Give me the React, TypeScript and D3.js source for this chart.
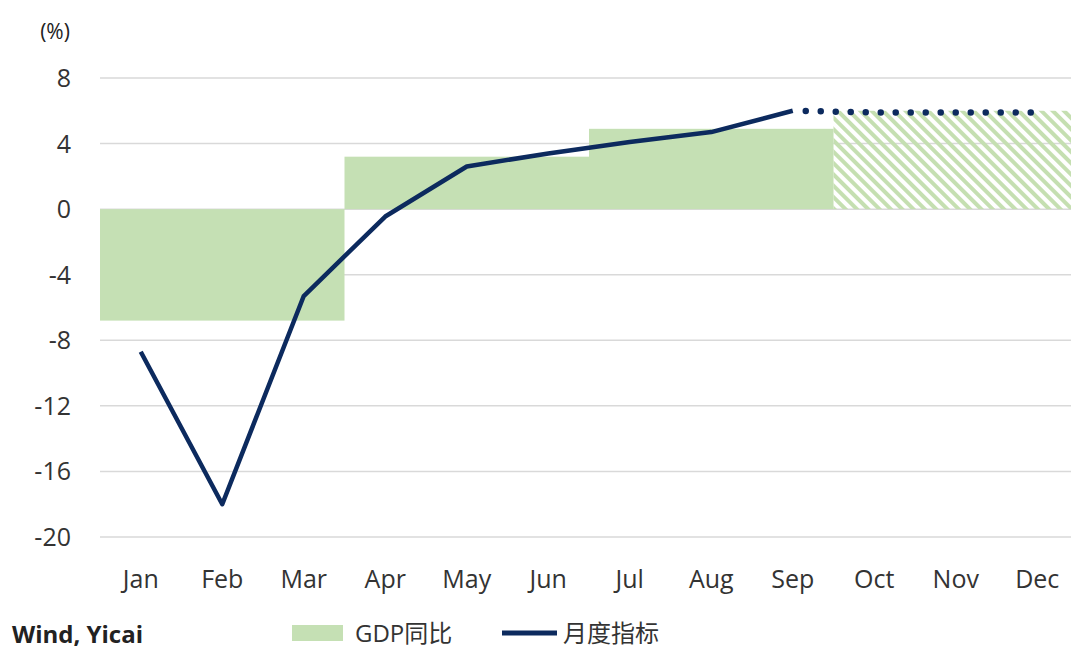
import React from "react";
import * as d3 from "d3";

const months = ["Jan","Feb","Mar","Apr","May","Jun","Jul","Aug","Sep","Oct","Nov","Dec"];
const quarterStart = ["Jan","Apr","Jul","Oct"];
const quarterEnd = ["Mar","Jun","Sep","Dec"];
const gdpQuarterly = [-6.8, 3.2, 4.9, 6.0];
const gdpForecast = [false, false, false, true];
const monthlyActual = [-8.7, -18.0, -5.3, -0.45, 2.6, 3.4, 4.1, 4.7, 6.0];
const forecastMonths = ["Sep","Oct","Nov","Dec"];
const monthlyForecast = [6.0, 5.9, 5.9, 5.9];
const yTicks = [8, 4, 0, -4, -8, -12, -16, -20];

const W = 1071, H = 651;
const FONT = "'Open Sans', 'Noto Sans CJK SC', sans-serif";

export default function App() {
  const x = d3.scaleBand<string>().domain(months).range([100, 1078]).padding(0);
  const y = d3.scaleLinear().domain([-20, 8]).range([537, 78]);
  const cx = (m: string) => (x(m) as number) + x.bandwidth() / 2;

  const line = d3.line<[string, number]>().x(d => cx(d[0])).y(d => y(d[1]));
  const actualPts: [string, number][] = monthlyActual.map((v, i) => [months[i], v]);
  const fcPts: [string, number][] = monthlyForecast.map((v, i) => [forecastMonths[i], v]);

  return (
    <svg width={W} height={H} style={{ position: "fixed", left: 0, top: 0, background: "#fff" }} fontFamily={FONT}>
      <defs>
        <pattern id="hatch" patternUnits="userSpaceOnUse" width={8} height={8} patternTransform="rotate(-45)">
          <rect x={0} y={0} width={4} height={8} fill="#c5dfb1" />
        </pattern>
      </defs>
      <rect width={W} height={H} fill="#fff" />
      {yTicks.map(t => (
        <line key={t} x1={100} x2={1078} y1={y(t)} y2={y(t)} stroke="#d9d9d9" strokeWidth={1.5} />
      ))}
      {gdpQuarterly.map((v, i) => {
        const x0 = x(quarterStart[i]) as number;
        const x1 = (x(quarterEnd[i]) as number) + x.bandwidth();
        const top = y(Math.max(0, v));
        const bot = y(Math.min(0, v));
        return (
          <rect key={i} x={x0} y={top} width={x1 - x0} height={bot - top}
            fill={gdpForecast[i] ? "url(#hatch)" : "#c5e0b4"} />
        );
      })}
      <path d={line(actualPts) || ""} fill="none" stroke="#0c2a5e" strokeWidth={4.5} strokeLinejoin="round" />
      <path d={line(fcPts) || ""} fill="none" stroke="#0c2a5e" strokeWidth={6.5}
        strokeLinecap="round" strokeDasharray="0 15" strokeDashoffset={-13} />
      {yTicks.map(t => (
        <text key={t} x={71} y={y(t)} dy="0.36em" textAnchor="end" fontSize={25} fill="#333">{t}</text>
      ))}
      <text x={55} y={39} textAnchor="middle" fontSize={21} fill="#222">(%)</text>
      {months.map(m => (
        <text key={m} x={cx(m)} y={588} textAnchor="middle" fontSize={25} fill="#333">{m}</text>
      ))}
      <text x={12} y={643} fontSize={24} fontWeight="bold" fill="#222">Wind, Yicai</text>
      <rect x={292} y={625} width={51} height={16} fill="#c5e0b4" />
      <text x={355} y={642} fontSize={24} fill="#333">GDP同比</text>
      <line x1={502} x2={557} y1={633} y2={633} stroke="#0c2a5e" strokeWidth={5} />
      <text x={563} y={642} fontSize={24} fill="#333">月度指标</text>
    </svg>
  );
}
